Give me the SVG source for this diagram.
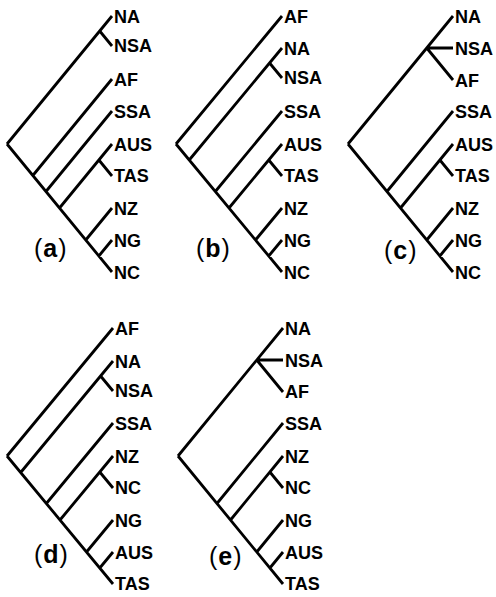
<svg xmlns="http://www.w3.org/2000/svg" width="496" height="597" viewBox="0 0 496 597">
<style>
.e{stroke:#000;stroke-width:2.8;fill:none;stroke-linecap:butt}
.t{font-family:"Liberation Sans",Arial,sans-serif;font-weight:bold;font-size:18px;fill:#000}
.p{font-family:"Liberation Sans",Arial,sans-serif;font-size:25px;letter-spacing:1px;fill:#000}
.p tspan.l{font-weight:bold}
</style>
<rect width="496" height="597" fill="#fff"/>
<g id="connectors" class="e">
<path d="M7,144 L112,16 M99.7,31 L112,46 M7,144 L112,272 M32.84,175.5 L112,79 M45.96,191.5 L112,111 M59.5,208 L112,144 M98.88,160 L112,176 M85.75,240 L112,208 M98.88,256 L112,240"/>
<path d="M176,144 L282,16 M176,144 L282,272 M189.25,160 L282,48 M269.58,63 L282,78 M215.34,191.5 L282,111 M229,208 L282,144 M268.75,160 L282,176 M255.5,240 L282,208 M268.75,256 L282,240"/>
<path d="M348,144 L453,16 M426.75,48 L453,48 M426.75,48 L453,80 M348,144 L453,272 M386.96,191.5 L453,111 M400.5,208 L453,144 M439.88,160 L453,176 M426.75,240 L453,208 M439.88,256 L453,240"/>
<path d="M7,456 L113,328 M7,456 L113,584 M20.66,472.5 L113,361 M100.58,376 L113,391 M46.34,503.5 L113,423 M60,520 L113,456 M99.75,472 L113,488 M86.5,552 L113,520 M99.75,568 L113,552"/>
<path d="M178,456 L283,328 M256.75,360 L283,360 M256.75,360 L283,392 M178,456 L283,584 M216.96,503.5 L283,423 M230.5,520 L283,456 M269.88,472 L283,488 M256.75,552 L283,520 M269.88,568 L283,552"/>
</g>
<g id="tree-a" class="t">
<g id="a-NA"><text x="114" y="23">NA</text></g>
<g id="a-NSA"><text x="114" y="52">NSA</text></g>
<g id="a-AF"><text x="114" y="86">AF</text></g>
<g id="a-SSA"><text x="114" y="118">SSA</text></g>
<g id="a-AUS"><text x="114" y="151">AUS</text></g>
<g id="a-TAS"><text x="114" y="182">TAS</text></g>
<g id="a-NZ"><text x="114" y="215">NZ</text></g>
<g id="a-NG"><text x="114" y="247">NG</text></g>
<g id="a-NC"><text x="114" y="279">NC</text></g>
</g>
<g id="tree-b" class="t">
<g id="b-AF"><text x="284" y="23">AF</text></g>
<g id="b-NA"><text x="284" y="55">NA</text></g>
<g id="b-NSA"><text x="284" y="84">NSA</text></g>
<g id="b-SSA"><text x="284" y="118">SSA</text></g>
<g id="b-AUS"><text x="284" y="151">AUS</text></g>
<g id="b-TAS"><text x="284" y="182">TAS</text></g>
<g id="b-NZ"><text x="284" y="215">NZ</text></g>
<g id="b-NG"><text x="284" y="247">NG</text></g>
<g id="b-NC"><text x="284" y="279">NC</text></g>
</g>
<g id="tree-c" class="t">
<g id="c-NA"><text x="455" y="23">NA</text></g>
<g id="c-NSA"><text x="455" y="55">NSA</text></g>
<g id="c-AF"><text x="455" y="87">AF</text></g>
<g id="c-SSA"><text x="455" y="118">SSA</text></g>
<g id="c-AUS"><text x="455" y="151">AUS</text></g>
<g id="c-TAS"><text x="455" y="182">TAS</text></g>
<g id="c-NZ"><text x="455" y="215">NZ</text></g>
<g id="c-NG"><text x="455" y="247">NG</text></g>
<g id="c-NC"><text x="455" y="279">NC</text></g>
</g>
<g id="tree-d" class="t">
<g id="d-AF"><text x="115" y="335">AF</text></g>
<g id="d-NA"><text x="115" y="368">NA</text></g>
<g id="d-NSA"><text x="115" y="397">NSA</text></g>
<g id="d-SSA"><text x="115" y="430">SSA</text></g>
<g id="d-NZ"><text x="115" y="463">NZ</text></g>
<g id="d-NC"><text x="115" y="494">NC</text></g>
<g id="d-NG"><text x="115" y="527">NG</text></g>
<g id="d-AUS"><text x="115" y="559">AUS</text></g>
<g id="d-TAS"><text x="115" y="590">TAS</text></g>
</g>
<g id="tree-e" class="t">
<g id="e-NA"><text x="285" y="335">NA</text></g>
<g id="e-NSA"><text x="285" y="367">NSA</text></g>
<g id="e-AF"><text x="285" y="398">AF</text></g>
<g id="e-SSA"><text x="285" y="430">SSA</text></g>
<g id="e-NZ"><text x="285" y="463">NZ</text></g>
<g id="e-NC"><text x="285" y="494">NC</text></g>
<g id="e-NG"><text x="285" y="527">NG</text></g>
<g id="e-AUS"><text x="285" y="559">AUS</text></g>
<g id="e-TAS"><text x="285" y="590">TAS</text></g>
</g>
<g id="panel-labels" class="p">
<g id="label-a"><text x="34" y="257">(<tspan class="l">a</tspan>)</text></g>
<g id="label-b"><text x="196" y="257">(<tspan class="l">b</tspan>)</text></g>
<g id="label-c"><text x="384" y="259">(<tspan class="l">c</tspan>)</text></g>
<g id="label-d"><text x="34" y="563">(<tspan class="l">d</tspan>)</text></g>
<g id="label-e"><text x="209" y="565">(<tspan class="l">e</tspan>)</text></g>
</g>
</svg>
